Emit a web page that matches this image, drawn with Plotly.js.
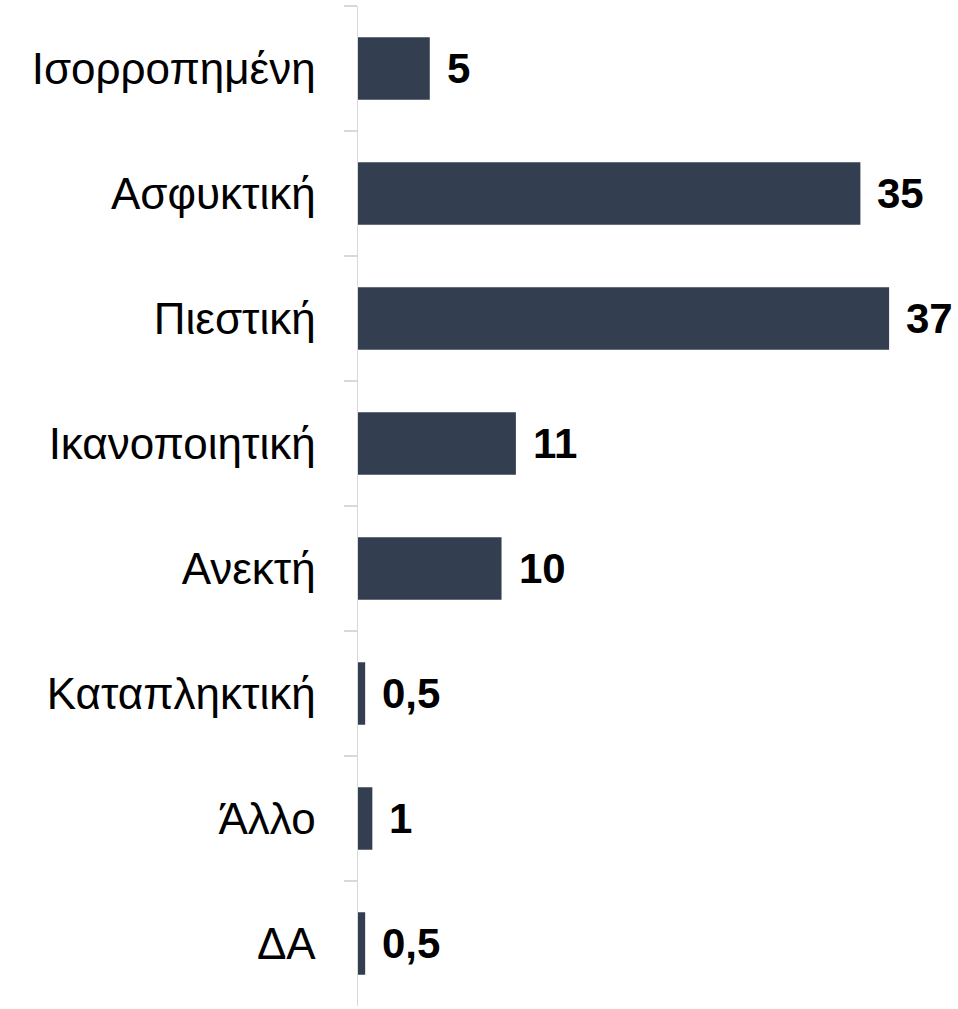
<!DOCTYPE html>
<html>
<head>
<meta charset="utf-8">
<script src="https://cdn.plot.ly/plotly-3.0.1.min.js"></script>
<style>html,body{margin:0;padding:0;background:#fff;}#chart{width:958px;height:1009px;}</style>
</head>
<body>
<div id="chart"></div>
<script>
const categories = ["Ισορροπημένη", "Ασφυκτική", "Πιεστική", "Ικανοποιητική", "Ανεκτή", "Καταπληκτική", "Άλλο", "ΔΑ"];
const values = [5, 35, 37, 11, 10, 0.5, 1, 0.5];

const valueLabels = values.map(v => String(v).replace('.', ','));

const trace = {
  type: 'bar',
  orientation: 'h',
  x: values,
  y: categories,
  marker: {color: '#333f50', line: {width: 0}},
  hoverinfo: 'x+y'
};

const annotations = values.map((v, i) => ({
  x: v, y: categories[i], xref: 'x', yref: 'y',
  text: valueLabels[i], showarrow: false,
  xanchor: 'left', yanchor: 'middle', xshift: 15,
  font: {family: '"Liberation Sans", Arial, sans-serif', size: 42, color: '#000000', weight: 'bold'}
}));

const layout = {
  width: 958, height: 1009,
  margin: {l: 358, r: 0, t: 6, b: 3, pad: 0},
  paper_bgcolor: '#ffffff', plot_bgcolor: '#ffffff',
  showlegend: false,
  bargap: 0.5,
  xaxis: {range: [0, 41.8], visible: false, showgrid: false, zeroline: false},
  yaxis: {
    type: 'category', categoryorder: 'array', categoryarray: categories,
    autorange: 'reversed',
    showline: true, linecolor: '#d9d9d9', linewidth: 1.5,
    ticks: 'outside', tickson: 'boundaries', ticklen: 13, tickcolor: '#d9d9d9', tickwidth: 1.5,
    showgrid: false, zeroline: false,
    ticklabelstandoff: 32,
    tickfont: {family: '"Liberation Sans", Arial, sans-serif', size: 44, color: '#000000'}
  },
  annotations: annotations
};

Plotly.newPlot('chart', [trace], layout, {displayModeBar: false, staticPlot: true});
</script>
</body>
</html>
